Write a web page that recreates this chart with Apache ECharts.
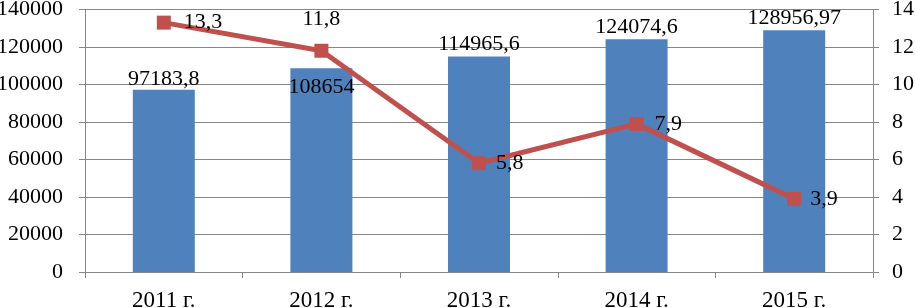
<!DOCTYPE html>
<html><head><meta charset="utf-8">
<script src="https://cdn.jsdelivr.net/npm/echarts@6/dist/echarts.min.js"></script>
<style>html,body{margin:0;padding:0;background:#fff}#c{width:915px;height:308px}</style>
</head><body><div id="c"></div>
<script>
const categories = ['2011 г.', '2012 г.', '2013 г.', '2014 г.', '2015 г.'];
const barValues = [97183.8, 108654, 114965.6, 124074.6, 128956.97];
const lineValues = [13.3, 11.8, 5.8, 7.9, 3.9];
const leftTicks = [0, 20000, 40000, 60000, 80000, 100000, 120000, 140000];
const rightTicks = [0, 2, 4, 6, 8, 10, 12, 14];

const barLabelPos = ['top', 'insideTop', 'top', 'top', 'top'];
const barLabelDist = [0, 8, 1, 1, 1];
const lineLabelPos = ['right', 'top', 'right', 'right', 'right'];
const lineLabelDist = [13, 14, 10, 11, 9];
const fmt = v => String(v).replace('.', ',');
const font = 'Liberation Serif';

const chart = echarts.init(document.getElementById('c'));
chart.setOption({
  animation: false,
  grid: { left: 85, right: 42, top: 9.5, bottom: 36, containLabel: false, outerBoundsMode: 'none' },
  xAxis: {
    type: 'category', data: categories,
    axisLine: { lineStyle: { color: '#868686', width: 1 } },
    axisTick: { show: true, length: 6, lineStyle: { color: '#868686' } },
    axisLabel: { color: '#000', fontFamily: font, fontSize: 23, margin: 17 }
  },
  yAxis: [
    { type: 'value', min: leftTicks[0], max: leftTicks[leftTicks.length - 1], interval: 20000,
      axisLine: { show: true, lineStyle: { color: '#868686' } },
      axisTick: { show: true, length: 6, lineStyle: { color: '#868686' } },
      splitLine: { lineStyle: { color: '#868686', width: 1 } },
      axisLabel: { color: '#000', fontFamily: font, fontSize: 22, margin: 22, formatter: v => String(v) } },
    { type: 'value', min: rightTicks[0], max: rightTicks[rightTicks.length - 1], interval: 2,
      axisLine: { show: true, lineStyle: { color: '#868686' } },
      axisTick: { show: true, length: 6, lineStyle: { color: '#868686' } },
      splitLine: { show: false },
      axisLabel: { color: '#000', fontFamily: font, fontSize: 22, margin: 19, formatter: v => String(v) } }
  ],
  series: [
    { type: 'bar', yAxisIndex: 0, barWidth: 62, itemStyle: { color: '#4F81BD' },
      data: barValues.map((v, i) => ({ value: v, label: { position: barLabelPos[i], distance: barLabelDist[i] } })),
      label: { show: true, formatter: p => fmt(p.value), color: '#000', fontFamily: font, fontSize: 22 } },
    { type: 'line', yAxisIndex: 1, symbol: 'rect', symbolSize: 14,
      lineStyle: { color: '#C0504D', width: 5 }, itemStyle: { color: '#C0504D' },
      data: lineValues.map((v, i) => ({ value: v, label: { position: lineLabelPos[i], distance: lineLabelDist[i] } })),
      label: { show: true, formatter: p => fmt(p.value), color: '#000', fontFamily: font, fontSize: 22 } }
  ]
});
</script></body></html>
